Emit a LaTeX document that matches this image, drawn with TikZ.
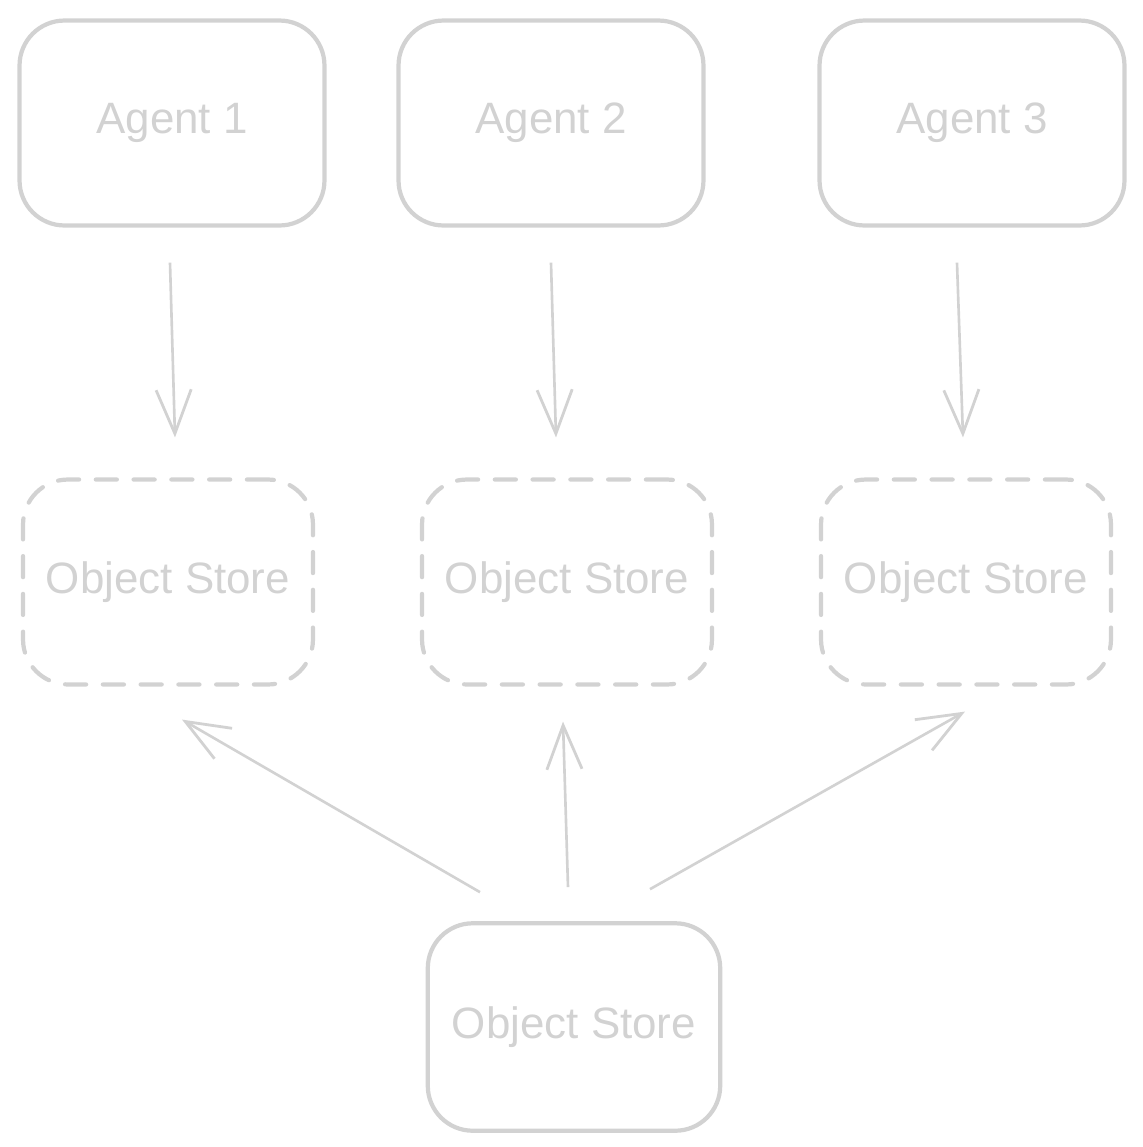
\documentclass[tikz,border=0pt]{standalone}
\usepackage{fontspec}
\setmainfont{Liberation Sans}
\usepackage{tikz}
\usetikzlibrary{arrows.meta,calc,positioning}
\definecolor{sketchgray}{HTML}{D2D2D2}
\tikzset{
  agentbox/.style={draw=sketchgray, line width=2.4pt, rounded corners=0.9cm, minimum width=6.1cm, minimum height=4.1cm, text=sketchgray, font=\fontsize{25}{30}\selectfont},
  storebox/.style={agentbox, line cap=round, dash pattern=on 12pt off 9.5pt, minimum width=5.8cm, minimum height=4.1cm},
  flow/.style={draw=sketchgray, line width=1.5pt, -{Straight Barb[length=25pt,width=20pt,line width=1.6pt]}}
}
\begin{document}
\begin{tikzpicture}[x=0.02cm, y=-0.02cm]
\useasboundingbox (0,0) rectangle (1143,1147);
\node[agentbox] (A1) at (172,123) {Agent 1};
\node[agentbox] (A2) at (551,123) {Agent 2};
\node[agentbox] (A3) at (972,123) {Agent 3};
\node[storebox] (S1) at (168,582) {Object Store};
\node[storebox] (S2) at (567,582) {Object Store};
\node[storebox] (S3) at (966,582) {Object Store};
\node[agentbox, minimum width=5.85cm, minimum height=4.15cm] (B) at (574,1027) {Object Store};
\draw[flow] ($(A1.south)+(-2,35)$) -- ($(S1.north)+(7,-40)$);
\draw[flow] ($(A2.south)+(0,35)$) -- ($(S2.north)+(-11,-40)$);
\draw[flow] ($(A3.south)+(-15,35)$) -- ($(S3.north)+(-3,-40)$);
\draw[flow] ($(B.north)+(-94,-29)$) -- ($(S1.south)+(14,33)$);
\draw[flow] ($(B.north)+(-6,-34)$) -- ($(S2.south)+(-4,35)$);
\draw[flow] ($(B.north)+(76,-32)$) -- ($(S3.south)+(-1,25)$);
\end{tikzpicture}
\end{document}
